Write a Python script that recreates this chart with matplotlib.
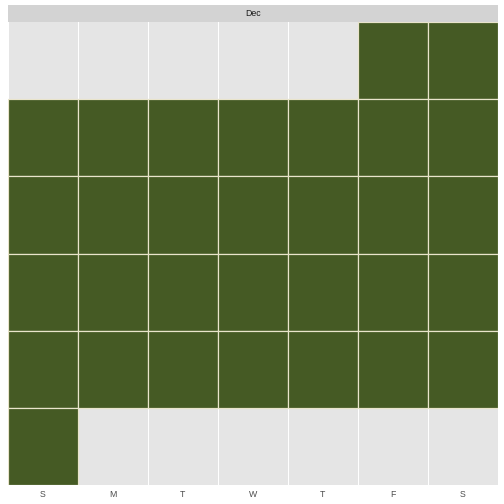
import matplotlib
matplotlib.use("Agg")
import matplotlib.pyplot as plt
import numpy as np

plt.rcParams['font.family'] = ['Liberation Sans', 'DejaVu Sans']

# December calendar: day, weekday column (0=Sun), week row (0=top)
days = list(range(1, 32))
wday = [5, 6,
        0, 1, 2, 3, 4, 5, 6,
        0, 1, 2, 3, 4, 5, 6,
        0, 1, 2, 3, 4, 5, 6,
        0, 1, 2, 3, 4, 5, 6,
        0]
week = [0, 0,
        1, 1, 1, 1, 1, 1, 1,
        2, 2, 2, 2, 2, 2, 2,
        3, 3, 3, 3, 3, 3, 3,
        4, 4, 4, 4, 4, 4, 4,
        5]
day_labels = ["S", "M", "T", "W", "T", "F", "S"]
month = "Dec"

W, H = 504, 504
fig = plt.figure(figsize=(W / 72, H / 72), dpi=72)
fig.patch.set_facecolor("white")

left, right, top, bottom = 8, 498, 22, 485
ax = fig.add_axes([left / W, 1 - bottom / H, (right - left) / W, (bottom - top) / H])
ax.set_facecolor("#E5E5E5")

# vertical grid lines between columns
for xb in np.arange(-0.5, 7, 1):
    ax.axvline(xb, color="white", lw=1.0, zorder=1)

ax.bar(wday, 1, bottom=np.array(week) - 0.5, width=1, color="#455A24",
       edgecolor="#E9E4CB", linewidth=1.2, zorder=2)

ax.set_xlim(-0.5, 6.5)
ax.set_ylim(5.5, -0.5)
ax.set_xticks(range(7))
ax.set_xticklabels(day_labels, fontsize=8.8, color="#4D4D4D")
ax.tick_params(axis="x", length=0, pad=5)
ax.set_yticks([])
for s in ax.spines.values():
    s.set_visible(False)

# facet strip
sax = fig.add_axes([left / W, 1 - top / H, (right - left) / W, 17 / H])
sax.set_facecolor("#D3D3D3")
sax.set_xticks([])
sax.set_yticks([])
for s in sax.spines.values():
    s.set_visible(False)
sax.text(0.5, 0.5, month, ha="center", va="center", fontsize=8.8,
         color="#1A1A1A", transform=sax.transAxes)

fig.savefig("out.png", dpi=72)
